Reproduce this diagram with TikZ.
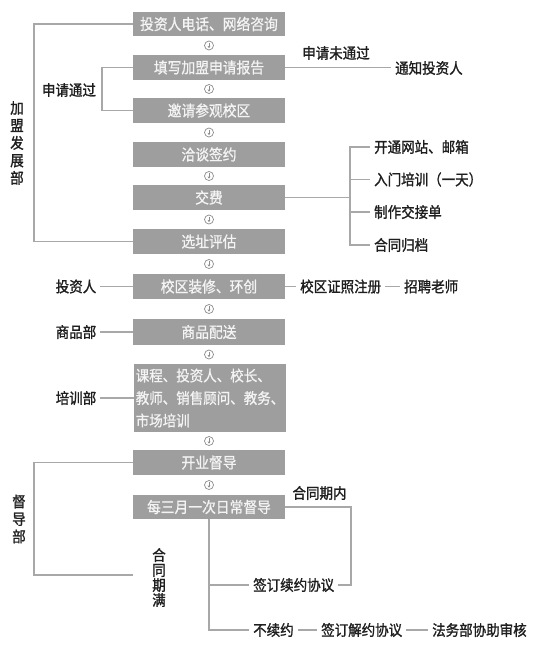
\documentclass[tikz,border=0pt]{standalone}
\usepackage{fontspec}
\newfontfamily\cjk[FakeStretch=0.9,FakeBold=1.3]{Noto Sans CJK SC}
\newfontfamily\cjkbox[FakeStretch=0.9,FakeBold=0.8]{Noto Sans CJK SC}
\usetikzlibrary{arrows.meta,calc}
\definecolor{boxgray}{HTML}{9E9E9E}
\definecolor{boxtxt}{HTML}{F4F4F4}
\definecolor{lngray}{HTML}{A8A8A8}
\definecolor{txtdark}{HTML}{1E1E1E}
\definecolor{icongray}{HTML}{8C8C8C}
\begin{document}
\begin{tikzpicture}[x=1pt,y=-1pt,
 flowbox/.style={fill=boxgray, draw=none, minimum width=152pt, minimum height=25pt, inner sep=0pt, text=boxtxt, font=\cjkbox\fontsize{15.3}{18}\selectfont},
 lbl/.style={inner sep=4pt, text=txtdark, font=\cjk\fontsize{15}{18}\selectfont},
 vlbl/.style={lbl, align=center},
 ln/.style={draw=lngray, line width=1.1pt},
 stepicon/.style={circle, draw=icongray, line width=0.7pt, minimum size=9pt, inner sep=0pt, fill=white,
   path picture={\draw[icongray, line width=0.7pt, -{Stealth[length=2.2pt,width=2.8pt]}] ([yshift=2.7pt]path picture bounding box.center) -- ([yshift=-2.6pt]path picture bounding box.center);}}
]
\useasboundingbox (0,0) rectangle (535,645);

% main flow boxes
\node[flowbox, minimum height=24pt] (b1) at (209,24) {投资人电话、网络咨询};
\node[flowbox] (b2) at (209,67.5) {填写加盟申请报告};
\node[flowbox] (b3) at (209,110.5) {邀请参观校区};
\node[flowbox] (b4) at (209,154.5) {洽谈签约};
\node[flowbox] (b5) at (209,197.5) {交费};
\node[flowbox] (b6) at (209,241.5) {选址评估};
\node[flowbox] (b7) at (209,286.5) {校区装修、环创};
\node[flowbox, minimum height=26pt] (b8) at (209,332) {商品配送};
\node[flowbox, minimum height=68pt, align=left, font=\cjkbox\fontsize{15}{22.5}\selectfont] (b9) at (210,398) {课程、投资人、校长、\\教师、销售顾问、教务、\\市场培训};
\node[flowbox] (b10) at (209,462.5) {开业督导};
\node[flowbox, minimum height=24pt] (b11) at (209,507) {每三月一次日常督导};

% step icons between boxes
\node[stepicon] (c1) at (209,45.5) {};
\node[stepicon] (c2) at (209,89) {};
\node[stepicon] (c3) at (209,132.5) {};
\node[stepicon] (c4) at (209,176) {};
\node[stepicon] (c5) at (209,219.5) {};
\node[stepicon] (c6) at (209,264) {};
\node[stepicon] (c7) at (209,309) {};
\node[stepicon] (c8) at (209,354.5) {};
\node[stepicon] (c9) at (209,441) {};
\node[stepicon] (c10) at (209,485) {};

% left: 加盟发展部
\node[vlbl, font=\cjk\fontsize{15}{17.5}\selectfont] (jm) at (17,143) {加\\盟\\发\\展\\部};
\coordinate (k1) at (34,0);
\draw[ln] (b1.west) -| (k1 |- b6.west) -- (b6.west);
\node[lbl] (pass) at (69,90) {申请通过};
\coordinate (k3) at (102,0);
\draw[ln] (b2.west) -| (k3 |- b3.west) -- (b3.west);

% right: application not passed
\node[lbl] (nopass) at (336,53) {申请未通过};
\node[lbl, anchor=west] (notify) at (391,68) {通知投资人};
\draw[ln] (b2.east) -- (b2.east -| notify.west);

% right: fee fork
\coordinate (f5) at (350,197.5);
\node[lbl, anchor=west] (r1) at (370,147) {开通网站、邮箱};
\node[lbl, anchor=west] (r2) at (370,179.5) {入门培训（一天）};
\node[lbl, anchor=west] (r3) at (370,212) {制作交接单};
\node[lbl, anchor=west] (r4) at (370,245) {合同归档};
\draw[ln] (b5.east) -- (f5);
\draw[ln] (r1.west) -| (f5) |- (r4.west);
\draw[ln] (r2.west) -- (r2.west -| f5);
\draw[ln] (r3.west) -- (r3.west -| f5);

% middle side labels
\node[lbl] (inv) at (76,286.5) {投资人};
\draw[ln] (inv.east) -- (b7.west);
\node[lbl, anchor=west] (reg) at (296,286.5) {校区证照注册};
\node[lbl, anchor=west] (hire) at (400,286.5) {招聘老师};
\draw[ln] (b7.east) -- (reg.west);
\draw[ln] (reg.east) -- (hire.west);
\node[lbl] (goods) at (76,332) {商品部};
\draw[ln] (goods.east) -- (b8.west);
\node[lbl] (train) at (76,398) {培训部};
\draw[ln] (train.east) -- (b9.west);

% bottom: 督导部
\node[vlbl, font=\cjk\fontsize{15}{17.5}\selectfont] (dd) at (19,519) {督\\导\\部};
\coordinate (k2) at (34,575);
\coordinate (e1) at (133,575);
\draw[ln] (b10.west) -| (k2) -- (e1);
\node[vlbl, font=\cjk\fontsize{15}{15}\selectfont] (expire) at (159,577.5) {合\\同\\期\\满};
\node[lbl] (inside) at (319.5,493) {合同期内};

\node[lbl, anchor=west] (renew) at (249,585) {签订续约协议};
\node[lbl, anchor=west] (nocont) at (249,630) {不续约};
\node[lbl, anchor=west] (jieyue) at (317,630) {签订解约协议};
\node[lbl, anchor=west] (law) at (428,630) {法务部协助审核};
\coordinate (k4) at (351,585);
\draw[ln] (b11.east) -| (k4) -- (renew.east);
\draw[ln] (b11.south) |- (nocont.west);
\draw[ln] (renew.west -| b11.south) -- (renew.west);
\draw[ln] (nocont.east) -- (jieyue.west);
\draw[ln] (jieyue.east) -- (law.west);
\end{tikzpicture}
\end{document}
